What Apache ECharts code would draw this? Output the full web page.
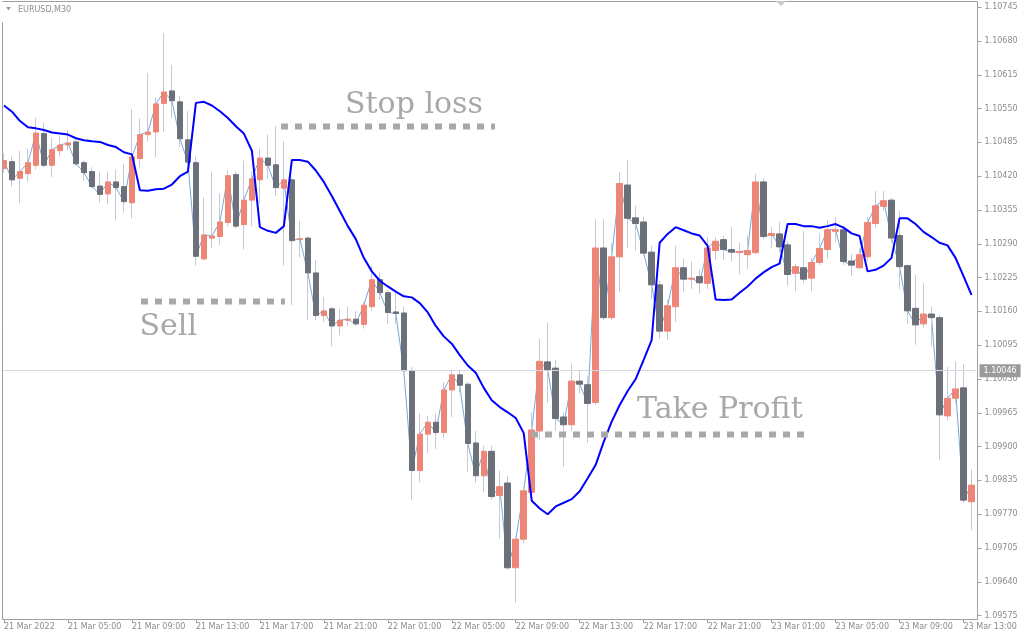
<!DOCTYPE html>
<html><head><meta charset="utf-8">
<script src="https://cdn.jsdelivr.net/npm/echarts@6/dist/echarts.min.js"></script>
<style>html,body{margin:0;padding:0;background:#fff}#c{width:1024px;height:640px}</style>
</head><body><div id="c"></div>
<script>
// ---- data (EURUSD M30) ----
const xTickLabels = ['21 Mar 2022','21 Mar 05:00','21 Mar 09:00','21 Mar 13:00','21 Mar 17:00','21 Mar 21:00',
  '22 Mar 01:00','22 Mar 05:00','22 Mar 09:00','22 Mar 13:00','22 Mar 17:00','22 Mar 21:00',
  '23 Mar 01:00','23 Mar 05:00','23 Mar 09:00','23 Mar 13:00'];
const priceTicks = [1.10745,1.10680,1.10615,1.10550,1.10485,1.10420,1.10355,1.10290,1.10225,1.10160,
  1.10095,1.10030,1.09965,1.09900,1.09835,1.09770,1.09705,1.09640,1.09575];
const currentPrice = 1.10046;

const open = [
 1.10435,1.10448,1.10416,1.10425,1.10441,1.10502,1.10441,1.10469,1.10480,1.10486,
 1.10446,1.10429,1.10401,1.10386,1.10409,1.10400,1.10369,1.10454,1.10500,1.10505,
 1.10560,1.10584,1.10563,1.10490,1.10446,1.10261,1.10301,1.10304,1.10331,1.10423,
 1.10327,1.10374,1.10413,1.10455,1.10442,1.10397,1.10413,1.10298,1.10301,1.10234,
 1.10152,1.10165,1.10132,1.10143,1.10145,1.10135,1.10169,1.10221,1.10196,1.10159,
 1.10157,1.10046,1.09854,1.09924,1.09947,1.09927,1.10009,1.10038,1.10020,1.09907,
 1.09844,1.09891,1.09806,1.09830,1.09667,1.09722,1.09812,1.09930,1.10063,1.10051,
 1.09957,1.09942,1.10026,1.10019,1.09985,1.10282,1.10148,1.10265,1.10403,1.10340,
 1.10332,1.10274,1.10211,1.10122,1.10169,1.10244,1.10222,1.10227,1.10214,1.10277,
 1.10298,1.10279,1.10273,1.10269,1.10273,1.10409,1.10306,1.10309,1.10288,1.10233,
 1.10244,1.10224,1.10254,1.10279,1.10314,1.10317,1.10257,1.10244,1.10265,1.10329,
 1.10362,1.10374,1.10306,1.10248,1.10166,1.10136,1.10155,1.10148,1.09959,1.09993,
 1.10013,1.09794];
const high = [
 1.10464,1.10458,1.10469,1.10473,1.10532,1.10523,1.10494,1.10498,1.10509,1.10491,
 1.10451,1.10437,1.10429,1.10429,1.10433,1.10444,1.10549,1.10531,1.10618,1.10571,
 1.10695,1.10634,1.10574,1.10545,1.10458,1.10379,1.10429,1.10387,1.10431,1.10429,
 1.10450,1.10429,1.10473,1.10500,1.10516,1.10487,1.10418,1.10334,1.10305,1.10259,
 1.10188,1.10169,1.10165,1.10169,1.10161,1.10179,1.10248,1.10235,1.10201,1.10198,
 1.10169,1.10053,1.09964,1.09959,1.09964,1.10024,1.10046,1.10046,1.10024,1.09930,
 1.09901,1.09901,1.09854,1.09844,1.09727,1.09821,1.09966,1.10107,1.10138,1.10067,
 1.09966,1.10060,1.10046,1.10035,1.10337,1.10337,1.10292,1.10428,1.10451,1.10363,
 1.10342,1.10286,1.10219,1.10183,1.10286,1.10261,1.10256,1.10241,1.10303,1.10303,
 1.10305,1.10322,1.10292,1.10306,1.10424,1.10416,1.10322,1.10332,1.10295,1.10252,
 1.10315,1.10263,1.10310,1.10336,1.10341,1.10325,1.10270,1.10281,1.10342,1.10392,
 1.10392,1.10379,1.10353,1.10250,1.10230,1.10214,1.10169,1.10154,1.10053,1.10064,
 1.10059,1.09856];
const low = [
 1.10426,1.10400,1.10368,1.10409,1.10433,1.10437,1.10418,1.10458,1.10469,1.10440,
 1.10411,1.10397,1.10369,1.10366,1.10335,1.10350,1.10339,1.10437,1.10487,1.10457,
 1.10505,1.10531,1.10476,1.10444,1.10248,1.10258,1.10281,1.10288,1.10324,1.10319,
 1.10279,1.10324,1.10368,1.10415,1.10382,1.10248,1.10172,1.10264,1.10143,1.10143,
 1.10140,1.10093,1.10114,1.10132,1.10132,1.10127,1.10161,1.10183,1.10136,1.10136,
 1.10038,1.09798,1.09832,1.09888,1.09895,1.09917,1.09957,1.10004,1.09852,1.09830,
 1.09812,1.09798,1.09723,1.09663,1.09600,1.09714,1.09808,1.09914,1.09984,1.09930,
 1.09861,1.09930,1.10002,1.09907,1.09980,1.10143,1.10143,1.10198,1.10281,1.10277,
 1.10266,1.10183,1.10107,1.10105,1.10140,1.10198,1.10203,1.10194,1.10203,1.10259,
 1.10259,1.10256,1.10232,1.10242,1.10270,1.10299,1.10281,1.10274,1.10209,1.10199,
 1.10214,1.10199,1.10249,1.10261,1.10292,1.10249,1.10228,1.10241,1.10256,1.10320,
 1.10353,1.10293,1.10203,1.10136,1.10096,1.10129,1.10093,1.09875,1.09950,1.09984,
 1.09792,1.09740];
const close = [
 1.10450,1.10413,1.10429,1.10446,1.10503,1.10441,1.10471,1.10480,1.10484,1.10444,
 1.10427,1.10400,1.10385,1.10409,1.10398,1.10371,1.10457,1.10500,1.10505,1.10559,
 1.10582,1.10565,1.10492,1.10447,1.10266,1.10307,1.10305,1.10332,1.10421,1.10324,
 1.10374,1.10415,1.10455,1.10441,1.10398,1.10413,1.10296,1.10300,1.10234,1.10152,
 1.10161,1.10132,1.10143,1.10145,1.10136,1.10172,1.10221,1.10196,1.10158,1.10156,
 1.10046,1.09854,1.09924,1.09947,1.09927,1.10009,1.10038,1.10018,1.09906,1.09844,
 1.09891,1.09804,1.09823,1.09667,1.09722,1.09815,1.09932,1.10064,1.10047,1.09954,
 1.09942,1.10026,1.10020,1.09983,1.10282,1.10148,1.10265,1.10406,1.10339,1.10329,
 1.10272,1.10211,1.10122,1.10171,1.10244,1.10222,1.10224,1.10215,1.10282,1.10295,
 1.10279,1.10274,1.10275,1.10277,1.10409,1.10304,1.10310,1.10284,1.10231,1.10246,
 1.10222,1.10254,1.10281,1.10317,1.10317,1.10256,1.10249,1.10269,1.10331,1.10363,
 1.10373,1.10301,1.10246,1.10161,1.10134,1.10155,1.10148,1.09961,1.09993,1.10011,
 1.09797,1.09826];
const indicator = [
 1.10556,1.10544,1.10526,1.10514,1.10512,1.10509,1.10504,1.10502,1.10500,1.10493,
 1.10489,1.10487,1.10486,1.10480,1.10476,1.10466,1.10462,1.10393,1.10392,1.10395,
 1.10396,1.10404,1.10420,1.10429,1.10561,1.10563,1.10556,1.10545,1.10532,1.10516,
 1.10502,1.10469,1.10322,1.10315,1.10311,1.10324,1.10451,1.10451,1.10448,1.10431,
 1.10409,1.10382,1.10353,1.10324,1.10299,1.10263,1.10237,1.10219,1.10208,1.10198,
 1.10189,1.10187,1.10176,1.10158,1.10132,1.10112,1.10098,1.10076,1.10056,1.10042,
 1.10013,1.09989,1.09976,1.09966,1.09955,1.09926,1.09796,1.09781,1.09770,1.09785,
 1.09792,1.09799,1.09814,1.09839,1.09865,1.09909,1.09948,1.09980,1.10007,1.10030,
 1.10067,1.10105,1.10292,1.10309,1.10322,1.10316,1.10310,1.10306,1.10286,1.10183,
 1.10182,1.10183,1.10196,1.10208,1.10223,1.10235,1.10245,1.10252,1.10328,1.10328,
 1.10324,1.10324,1.10321,1.10324,1.10328,1.10321,1.10310,1.10305,1.10237,1.10240,
 1.10248,1.10263,1.10339,1.10339,1.10328,1.10313,1.10303,1.10292,1.10287,1.10263,
 1.10228,1.10192];

// categories: 30-minute bars from 21 Mar 2022 01:00
const months = ['Jan','Feb','Mar','Apr','May','Jun','Jul','Aug','Sep','Oct','Nov','Dec'];
const categories = open.map((_, i) => {
  const d = new Date(Date.UTC(2022, 2, 21, 1, 0) + i * 30 * 60000);
  const p = n => String(n).padStart(2, '0');
  return d.getUTCDate() + ' ' + months[d.getUTCMonth()] + ' ' + p(d.getUTCHours()) + ':' + p(d.getUTCMinutes());
});

const BULL = '#ee8677', BEAR = '#6b7079', WICK = '#c6c9d3';
const AXIS = '#a0a0a0', LABEL = '#8c8c8c', ANNOT = '#a8a8a8';
const FONT = 'DejaVu Sans';

const bodies = open.map((o, i) => [o, close[i], Math.min(o, close[i]), Math.max(o, close[i])]);
const wicks = open.map((o, i) => [i, low[i], high[i]]);
const isTick = i => i % 8 === 0;

const chart = echarts.init(document.getElementById('c'), null, {renderer: 'canvas'});
chart.setOption({
  animation: false,
  backgroundColor: '#ffffff',
  grid: {left: -0.5, right: 48.5, top: 2, bottom: 21},
  xAxis: {
    type: 'category', data: categories, boundaryGap: true,
    axisLine: {show: false},
    axisTick: {show: true, alignWithLabel: true, interval: isTick, length: 4, lineStyle: {color: AXIS}},
    axisLabel: {interval: isTick, formatter: (v, i) => xTickLabels[i / 8], align: 'left', margin: 4,
      color: LABEL, fontSize: 8, fontFamily: FONT},
    splitLine: {show: false}
  },
  yAxis: {
    type: 'value', position: 'right', min: 1.095685, max: 1.10755, offset: 2,
    splitLine: {show: false}, axisLine: {show: false},
    axisTick: {show: true, length: 4, customValues: priceTicks, lineStyle: {color: AXIS}},
    axisLabel: {customValues: priceTicks, formatter: v => v.toFixed(5), margin: 7,
      color: LABEL, fontSize: 8, fontFamily: FONT}
  },
  series: [
    {
      type: 'line', name: 'close', data: close, z: 2, symbol: 'none', silent: true,
      lineStyle: {color: '#78a6dc', width: 1},
      markLine: {
        silent: true, symbol: ['none', 'none'], precision: 5,
        lineStyle: {type: 'solid', color: '#d5d8e0', width: 1},
        label: {show: true, position: 'end', distance: 4, formatter: () => currentPrice.toFixed(5),
          backgroundColor: '#9b9b9b', color: '#ffffff', padding: [3, 4, 2, 4], fontSize: 8, fontFamily: FONT},
        data: [{yAxis: currentPrice}]
      }
    },
    {
      type: 'custom', name: 'wicks', data: wicks, z: 3, silent: true,
      encode: {x: 0, y: [1, 2]},
      renderItem: (params, api) => {
        const i = api.value(0);
        const lo = api.coord([i, api.value(1)]);
        const hi = api.coord([i, api.value(2)]);
        const x = Math.floor(lo[0]) + 0.5;
        return {type: 'line', shape: {x1: x, y1: hi[1], x2: x, y2: lo[1]},
          style: {stroke: WICK, lineWidth: 1}};
      }
    },
    {
      type: 'candlestick', name: 'EURUSD', data: bodies, z: 4, barWidth: 6, silent: true,
      itemStyle: {color: BULL, color0: BEAR, borderColor: BULL, borderColor0: BEAR, borderWidth: 1}
    },
    {
      type: 'line', name: 'indicator', data: indicator, z: 5, symbol: 'none', silent: true,
      lineStyle: {color: '#0000ff', width: 2}
    }
  ],
  graphic: [
    {type: 'rect', silent: true, z: 45, shape: {x: 0, y: 0, width: 2, height: 640}, style: {fill: '#ffffff'}},
    {type: 'line', silent: true, z: 50, shape: {x1: 2.5, y1: 22, x2: 2.5, y2: 619.5}, style: {stroke: AXIS, lineWidth: 1}},
    {type: 'line', silent: true, z: 50, shape: {x1: 2.5, y1: 619.5, x2: 977.5, y2: 619.5}, style: {stroke: AXIS, lineWidth: 1}},
    {type: 'line', silent: true, z: 50, shape: {x1: 977.5, y1: 1.5, x2: 977.5, y2: 619.5}, style: {stroke: AXIS, lineWidth: 1}},
    {type: 'line', silent: true, z: 50, shape: {x1: 2.5, y1: 1.5, x2: 977.5, y2: 1.5}, style: {stroke: AXIS, lineWidth: 1}},
    {type: 'polygon', silent: true, z: 50, shape: {points: [[6, 7], [11, 7], [8.5, 10.5]]}, style: {fill: '#a0a0a0'}},
    {type: 'text', silent: true, z: 50, style: {text: 'EURUSD,M30', x: 18, y: 10, fill: LABEL,
      font: '8px "DejaVu Sans"', textVerticalAlign: 'middle'}},
    {type: 'polygon', silent: true, z: 50, shape: {points: [[776, 1], [786, 1], [781, 6]]}, style: {fill: '#c8c8c8'}},
    // annotations
    {type: 'line', silent: true, z: 40, shape: {x1: 281, y1: 126.5, x2: 495, y2: 126.5},
      style: {stroke: ANNOT, lineWidth: 6, lineDash: [7, 7]}},
    {type: 'line', silent: true, z: 40, shape: {x1: 141, y1: 301.5, x2: 285, y2: 301.5},
      style: {stroke: ANNOT, lineWidth: 6, lineDash: [7, 7]}},
    {type: 'line', silent: true, z: 40, shape: {x1: 531, y1: 434.5, x2: 805, y2: 434.5},
      style: {stroke: ANNOT, lineWidth: 6, lineDash: [7, 7]}},
    {type: 'text', silent: true, z: 40, style: {text: 'Stop loss', x: 345, y: 105.5, fill: ANNOT,
      font: '30px "DejaVu Serif"', textVerticalAlign: 'middle'}},
    {type: 'text', silent: true, z: 40, style: {text: 'Sell', x: 139.5, y: 327, fill: ANNOT,
      font: '30px "DejaVu Serif"', textVerticalAlign: 'middle'}},
    {type: 'text', silent: true, z: 40, style: {text: 'Take Profit', x: 637, y: 410, fill: ANNOT,
      font: '30px "DejaVu Serif"', textVerticalAlign: 'middle'}}
  ]
});
</script>
</body></html>
